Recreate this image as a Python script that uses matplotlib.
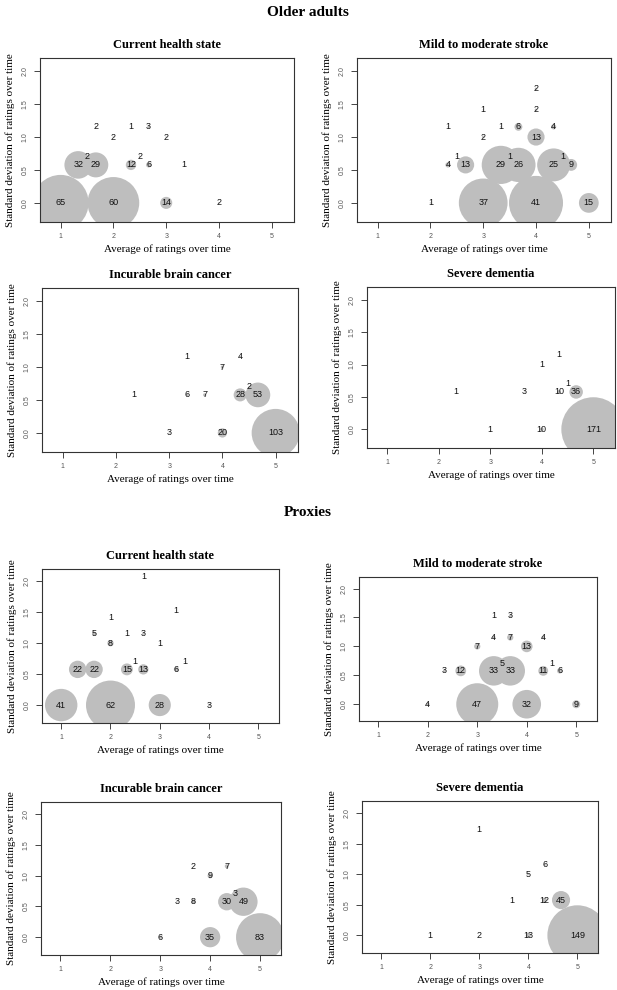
import matplotlib
matplotlib.use('Agg')
import matplotlib.pyplot as plt

# sd values that occur with 2 or 3 ratings
S0, S1, S2, S3, S4, S5, S6, S7 = 0.0, 0.577, 0.707, 1.0, 1.155, 1.414, 1.528, 1.732
S8 = 2.082
A13, A23, A43, A53, A73, A83 = 1 / 3, 2 / 3, 4 / 3, 5 / 3, 7 / 3, 8 / 3
A103, A113, A133, A143 = 10 / 3, 11 / 3, 13 / 3, 14 / 3

groups = ['Older adults', 'Proxies']
titles = ['Current health state', 'Mild to moderate stroke',
          'Incurable brain cancer', 'Severe dementia']

# older adults
old_health_x = [A53, A73, A83, 2, 3, 1.5, A43, A53, 2.5, A73, A83, A103, 1, 2, 3, 4]
old_health_y = [S4, S4, S4, S3, S3, S2, S1, S1, S2, S1, S1, S1, S0, S0, S0, S0]
old_health_n = [2, 1, 3, 2, 2, 2, 32, 29, 2, 12, 6, 1, 65, 60, 14, 2]

old_stroke_x = [4, 3, 4, A73, A103, A113, A133, 3, 4, 2.5, 3.5, 4.5,
                A73, A83, A103, A113, A133, A143, 2, 3, 4, 5]
old_stroke_y = [S7, S5, S5, S4, S4, S4, S4, S3, S3, S2, S2, S2,
                S1, S1, S1, S1, S1, S1, S0, S0, S0, S0]
old_stroke_n = [2, 1, 2, 1, 1, 6, 4, 2, 13, 1, 1, 1,
                4, 13, 29, 26, 25, 9, 1, 37, 41, 15]

old_cancer_x = [A103, A133, 4, 4.5, A73, A103, A113, A133, A143, 3, 4, 5]
old_cancer_y = [S4, S4, S3, S2, S1, S1, S1, S1, S1, S0, S0, S0]
old_cancer_n = [1, 4, 7, 2, 1, 6, 7, 28, 53, 3, 20, 103]

old_dementia_x = [A133, 4, 4.5, A73, A113, A133, A143, 3, 4, 5]
old_dementia_y = [S4, S3, S2, S1, S1, S1, S1, S0, S0, S0]
old_dementia_n = [1, 1, 1, 1, 3, 10, 36, 1, 10, 171]

# proxies
prx_health_x = [A83, A103, 2, A53, A73, A83, 2, 3, 2.5, 3.5,
                A43, A53, A73, A83, A103, 1, 2, 3, 4]
prx_health_y = [S8, S6, S5, S4, S4, S4, S3, S3, S2, S2,
                S1, S1, S1, S1, S1, S0, S0, S0, S0]
prx_health_n = [1, 1, 1, 5, 1, 3, 8, 1, 1, 1, 22, 22, 15, 13, 6, 41, 62, 28, 3]

prx_stroke_x = [A103, A113, A103, A113, A133, 3, 4, 3.5, 4.5,
                A73, A83, A103, A113, A133, A143, 2, 3, 4, 5]
prx_stroke_y = [S6, S6, S4, S4, S4, S3, S3, S2, S2,
                S1, S1, S1, S1, S1, S1, S0, S0, S0, S0]
prx_stroke_n = [1, 3, 4, 7, 4, 7, 13, 5, 1, 3, 12, 33, 33, 11, 6, 4, 47, 32, 9]

prx_cancer_x = [A113, A133, 4, 4.5, A103, A113, A133, A143, 3, 4, 5]
prx_cancer_y = [S4, S4, S3, S2, S1, S1, S1, S1, S0, S0, S0]
prx_cancer_n = [2, 7, 9, 3, 3, 8, 30, 49, 6, 35, 83]

prx_dementia_x = [3, A133, 4, A113, A133, A143, 2, 3, 4, 5]
prx_dementia_y = [S7, S4, S3, S1, S1, S1, S0, S0, S0, S0]
prx_dementia_n = [1, 6, 5, 1, 12, 45, 1, 2, 13, 149]

panels = [
    (old_health_x, old_health_y, old_health_n),
    (old_stroke_x, old_stroke_y, old_stroke_n),
    (old_cancer_x, old_cancer_y, old_cancer_n),
    (old_dementia_x, old_dementia_y, old_dementia_n),
    (prx_health_x, prx_health_y, prx_health_n),
    (prx_stroke_x, prx_stroke_y, prx_stroke_n),
    (prx_cancer_x, prx_cancer_y, prx_cancer_n),
    (prx_dementia_x, prx_dementia_y, prx_dementia_n),
]

# axes boxes in pixels: left, top, right, bottom
W, H = 617, 990
boxes = [(40, 58, 294, 222), (357, 58, 611, 222),
         (42, 288, 298, 452), (367, 287, 615, 448),
         (42, 569, 279, 723), (359, 577, 597, 721),
         (41, 802, 281, 955), (362, 801, 598, 953)]
# radius (px) of the biggest circle in each panel
rmax = [28, 27, 24, 32, 24.5, 21, 24, 30]

serif = 'Liberation Serif'
sans = 'Liberation Sans'

fig = plt.figure(figsize=(W / 100, H / 100), dpi=100)
fig.text(308 / W, 1 - 13 / H, groups[0], ha='center', va='center',
         fontsize=11, fontweight='bold', family=serif)
fig.text(308 / W, 1 - 513 / H, groups[1], ha='center', va='center',
         fontsize=11, fontweight='bold', family=serif)

for i, (x, y, n) in enumerate(panels):
    l, t, r, b = boxes[i]
    ax = fig.add_axes([l / W, 1 - b / H, (r - l) / W, (b - t) / H])
    scale = rmax[i] / max(n)
    sizes = [(2 * k * scale * 0.72) ** 2 for k in n]
    ax.scatter(x, y, s=sizes, c='#bebebe', edgecolors='none', zorder=2)
    for xi, yi, ni in zip(x, y, n):
        ax.text(xi, yi, str(ni), ha='center', va='center', fontsize=6.5,
                family=sans, color='#111111', zorder=3)
    ax.set_xlim(0.61, 5.42)
    ax.set_ylim(-0.29, 2.2)
    ax.set_xticks([1, 2, 3, 4, 5])
    ax.set_yticks([0, 0.5, 1.0, 1.5, 2.0])
    ax.set_yticklabels(['0.0', '0.5', '1.0', '1.5', '2.0'], rotation=90, va='center')
    ax.tick_params(length=4, width=0.7, labelsize=5, labelcolor='#555555',
                   color='#444444', pad=4)
    for lab in ax.get_xticklabels() + ax.get_yticklabels():
        lab.set_family(sans)
    for sp in ax.spines.values():
        sp.set_color('#333333')
        sp.set_linewidth(0.8)
    ax.set_title(titles[i % 4], fontsize=9, fontweight='bold', family=serif, pad=7)
    ax.set_xlabel('Average of ratings over time', fontsize=8, family=serif, labelpad=3)
    ax.set_ylabel('Standard deviation of ratings over time', fontsize=8,
                  family=serif, labelpad=5)

fig.savefig('out.png', dpi=100)
